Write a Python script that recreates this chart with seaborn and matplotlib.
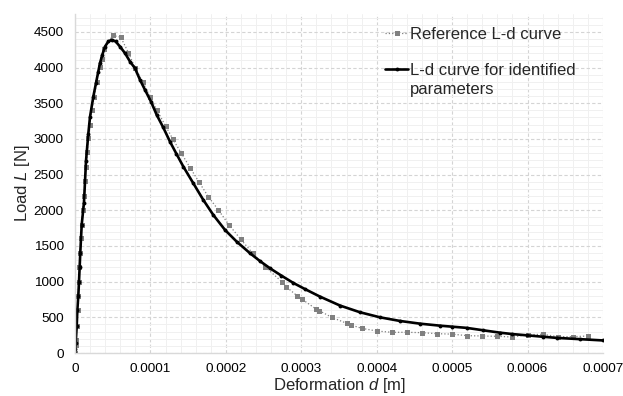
import numpy as np
import pandas as pd
import matplotlib
matplotlib.use("Agg")
import matplotlib.pyplot as plt
import seaborn as sns
from matplotlib.ticker import MultipleLocator, FuncFormatter

# --- data (deformation in micrometres) ---
ref_d_um = [0, 0.93, 1.33, 2.25, 3.58, 4.37, 5.30, 5.70, 7.03, 7.95, 8.88, 10.2,
            11.9, 13.3, 14.6, 16.3, 17.6, 19.5, 22.1, 25.6, 28.8, 32.7, 35.4,
            38.8, 50.0, 60.6, 70.7, 79.9, 89.7, 99.4, 108.3, 120.2, 129.5,
            140.5, 152.5, 164.0, 176.7, 190.0, 204.2, 219.7, 235.6, 251.9,
            274.0, 279.7, 294.7, 300.5, 319.5, 323.9, 340.3, 360.2, 365.5,
            380.1, 400.0, 420, 440, 460, 480, 500, 520, 540, 560, 580, 600,
            620, 640, 660, 680]
ref_load = [0, 112, 182, 378, 603, 800, 995, 1205, 1406, 1612, 1795, 2005,
            2200, 2410, 2608, 2822, 3014, 3200, 3407, 3590, 3804, 4014, 4122,
            4262, 4449, 4426, 4210, 3990, 3804, 3593, 3407, 3180, 3000,
            2808, 2598, 2402, 2191, 2005, 1795, 1594, 1398, 1210,
            1000, 930, 800, 757, 617, 593, 500, 416, 393,
            346, 308, 290, 290, 285, 271, 264, 243, 238, 234, 224, 257,
            262, 229, 229, 238]

fit_d_um = [0, 0.4, 0.9, 2.3, 3.1, 4.4, 5.3, 6.2, 7.0, 8.9, 11.9, 14.6, 17.6,
            19.9, 24.3, 27.8, 30.9, 33.1, 36.2, 39.8, 44.2, 48.6, 53.9, 59.6,
            66.3, 72.9, 79.5, 86.2, 92.8, 100.7, 108.3, 117.0, 126.0, 134.5,
            143.6, 156.8, 170.1, 183.3, 198.9, 214.4, 232.0, 245.0, 258.5,
            273.5, 289.4, 305.0, 324.8, 351.3, 377.8, 404.3, 430.8, 457.4,
            483.9, 499.8, 519.3, 541.3, 563.4, 580.0, 598.8, 620.0, 638.6,
            669.3, 700.0]
fit_load = [0, 52, 136, 383, 603, 803, 1000, 1210, 1406, 1800, 2107, 2692, 3066,
            3309, 3593, 3780, 3944, 4061, 4178, 4294, 4365, 4388, 4365, 4294,
            4201, 4084, 3990, 3827, 3687, 3523, 3337, 3160, 2960, 2790,
            2612, 2379, 2145, 1935, 1724, 1560, 1398, 1290, 1187,
            1085, 982, 895, 790, 665, 571, 500, 449, 411,
            383, 369, 352, 318, 285, 265, 248, 228, 212,
            194, 176]

ref_label = "Reference L-d curve"
fit_label_1 = "L-d curve for identified"
fit_label_2 = "parameters"

df_ref = pd.DataFrame({"d": np.array(ref_d_um) * 1e-6, "L": ref_load})
df_fit = pd.DataFrame({"d": np.array(fit_d_um) * 1e-6, "L": fit_load})

sns.set_theme(style="white")
plt.rcParams["font.family"] = ["Liberation Sans", "DejaVu Sans"]
plt.rcParams["mathtext.fontset"] = "custom"
plt.rcParams["mathtext.it"] = "Liberation Sans:italic"
plt.rcParams["mathtext.rm"] = "Liberation Sans"

fig = plt.figure(figsize=(6.23, 3.96), dpi=100)
ax = fig.add_axes([75 / 623, 1 - 353 / 396, 528 / 623, 339 / 396])

sns.lineplot(data=df_ref, x="d", y="L", ax=ax, color="#808080", linestyle=":",
             lw=0.9, marker="s", markersize=3.6, markeredgewidth=0,
             estimator=None, sort=False, label=ref_label)
sns.lineplot(data=df_fit, x="d", y="L", ax=ax, color="black", linestyle="-",
             lw=1.9, marker="o", markersize=2.8, markeredgewidth=0,
             estimator=None, sort=False, label=fit_label_1)

ax.set_xlim(0, 0.0007)
ax.set_ylim(0, 4750)
ax.xaxis.set_major_locator(MultipleLocator(0.0001))
ax.xaxis.set_minor_locator(MultipleLocator(0.00002))
ax.yaxis.set_major_locator(MultipleLocator(500))
ax.yaxis.set_minor_locator(MultipleLocator(100))
ax.xaxis.set_major_formatter(FuncFormatter(lambda v, p: "0" if abs(v) < 1e-12 else f"{v:.4f}"))

ax.grid(which="minor", color="#f0f0f0", lw=0.7, linestyle="-")
ax.grid(which="major", color="#d4d4d4", lw=0.8, linestyle=(0, (3, 2)))
ax.set_axisbelow(True)

for s in ["top", "right"]:
    ax.spines[s].set_visible(False)
for s in ["left", "bottom"]:
    ax.spines[s].set_color("#d9d9d9")
    ax.spines[s].set_linewidth(1.0)

ax.tick_params(axis="both", which="both", length=0, labelsize=9.7, colors="#000000")
ax.tick_params(axis="x", pad=7)
ax.tick_params(axis="y", pad=8)

ax.set_xlabel("Deformation $d$ [m]", fontsize=12, labelpad=1)
ax.set_ylabel("Load $L$ [N]", fontsize=12, labelpad=1.5)

handles, labels = ax.get_legend_handles_labels()
leg = ax.legend(handles, labels, loc="upper left", bbox_to_anchor=(0.588, 0.962),
                frameon=False, fontsize=12, handlelength=1.35, handletextpad=0.1,
                labelspacing=1.25, borderpad=0, borderaxespad=0, numpoints=1)

fig.canvas.draw()
bb = leg.get_texts()[1].get_window_extent()
inv = fig.transFigure.inverted()
x0, y0 = inv.transform((bb.x0, bb.y0))
fig.text(x0, y0 - 4 / 396, fit_label_2, fontsize=12, ha="left", va="top")

fig.savefig("out.png", dpi=100)
